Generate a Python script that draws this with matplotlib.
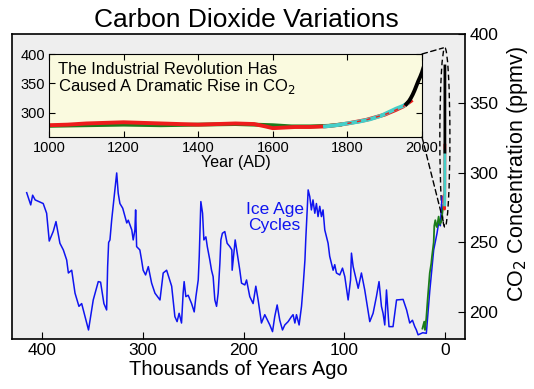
import matplotlib
matplotlib.use("Agg")
import matplotlib.pyplot as plt
from matplotlib.patches import Ellipse, ConnectionPatch
import numpy as np

plt.rcParams['font.family'] = ['Liberation Sans', 'DejaVu Sans']

# Vostok ice core (thousands of years ago, ppmv)
vostok_kyr = [415.4, 411.4, 409.5, 407, 399, 395.6, 393, 389, 386.3, 382.4,
              379, 375.7, 374, 370.7, 367.4, 363.5, 360.8, 354, 349.3, 344.3,
              342, 338.7, 336, 335, 334, 332.7, 331, 328.5, 326, 324.5,
              322.8, 320, 317.8, 316, 314.5, 311, 309.6, 307.9, 307.2, 306.2,
              303, 301.3, 299.7, 297.3, 294.6, 291.3, 288, 283, 279.8, 276.4,
              271.4, 268.2, 266, 264, 261.6, 260, 259, 257.3, 255, 251.6,
              249, 247.3, 245, 244, 242.4, 240.7, 239.4, 237.4, 236, 233.5,
              231.8, 230.2, 228.5, 226.8, 225.2, 223.5, 222.5, 221, 218.6, 216.3,
              213.6, 211.6, 211.3, 208.3, 205.3, 203.7, 202, 198.7, 197, 193.8,
              190.5, 187.8, 185.5, 182.2, 178.9, 173.9, 171.2, 169, 166.6, 164,
              161.3, 159, 155.7, 152.4, 150.8, 149, 147.4, 144.8, 142.4, 140.8,
              139, 138.2, 136.8, 135.8, 134.2, 132.6, 131, 129.2, 127.6, 126,
              124.3, 122.6, 121, 119.3, 116, 114.4, 112.7, 111, 109.4, 107.7,
              104.4, 101.7, 99.4, 96.1, 93.7, 92.8, 91.1, 86.1, 82.9, 79.6,
              74.6, 71.3, 68, 65.4, 63, 61.4, 59.7, 58, 55.5, 51.5,
              48, 41.5, 38, 34.9, 32.2, 29.9, 28.3, 26.6, 22, 18.4,
              15, 11.1, 7.8, 6.2, 4.5, 2.8]
vostok_ppm = [285.8, 277, 284, 280.6, 278, 271, 251, 258, 265, 249.4,
              244.6, 237.4, 228, 230, 213.5, 204, 206, 187, 208.6, 221.8,
              221.4, 206, 201.4, 232.6, 250, 251.8, 266, 283, 300, 285.4,
              278, 274.6, 268.6, 264, 266, 259, 251.8, 259, 273.4, 247,
              244.6, 237.4, 230, 226.6, 232.6, 220.7, 213.5, 208.6, 228, 230,
              218.5, 196.6, 193, 199, 192, 213.5, 221.8, 211, 212, 206,
              200, 211, 223, 240, 279.4, 271, 251.8, 254, 247, 237.4,
              230, 225.4, 208.6, 204, 213.5, 235, 251.8, 256.6, 257.8, 249.4,
              247, 244.6, 230, 251.8, 237.4, 230, 220.7, 219.4, 223, 211,
              206, 218.5, 208.6, 192, 198, 190.6, 185.8, 196.6, 205, 194,
              187, 190.6, 193, 196.6, 198, 192, 198, 190.6, 204, 218.5,
              237.4, 251.8, 273.4, 287.8, 283, 273.4, 280.6, 271, 278, 268.6,
              276, 268.6, 273.4, 259, 249.4, 240, 235, 230, 234, 228,
              226.6, 231.5, 225.4, 208.6, 223, 242.3, 232.6, 217, 228, 215.8,
              193, 199, 211, 221.8, 204, 199, 190.6, 215.8, 189.4, 189.4,
              208.6, 209, 201.4, 192, 194, 189.4, 187, 183.5, 185, 184.6,
              215, 244.6, 256.6, 263.9, 262, 283]

# Dome ice core, last glacial transition
dome_kyr = [22.3, 20.5, 19.8, 18.5, 17, 15, 13.5, 12.8, 11.1, 10.5,
            9.5, 8.5, 7.8, 6.2, 5, 3.5, 2.2, 1.0]
dome_ppm = [188, 193, 187, 195, 210, 228, 235, 240, 250, 262,
            266, 262, 261, 268.6, 263, 265, 273, 278]

# Last millennium (year AD, ppmv)
green_year = [1000, 1100, 1200, 1300, 1400, 1500, 1600, 1650, 1700, 1750, 1780]
green_ppm = [278, 279, 280, 279, 280, 281, 279, 277, 277, 278, 280]
red_year = [1000, 1050, 1100, 1150, 1200, 1250, 1300, 1350, 1400, 1450, 1500,
            1550, 1580, 1600, 1630, 1660, 1700, 1740, 1780, 1800, 1850, 1900,
            1930, 1950, 1970]
red_ppm = [279, 280, 282, 283, 284, 283, 282, 281, 280, 281, 282,
           281, 277, 274, 275, 276, 276, 277, 280, 282, 288, 297,
           305, 311, 320]
cyan_year = [1740, 1770, 1800, 1830, 1860, 1890, 1910, 1930, 1950, 1960]
cyan_ppm = [277, 279, 282, 285, 289, 295, 301, 307, 312, 316]
black_year = [1958, 1965, 1970, 1975, 1980, 1985, 1990, 1995, 2000, 2004]
black_ppm = [315, 320, 325, 331, 338, 346, 354, 361, 369, 377]

blue = '#0f14f0'
dgreen = '#1b7d1b'
red = '#ee1c1c'
cyan = '#45cfc9'


def to_kyr(years):
    return (1950 - np.array(years)) / 1000.0


fig = plt.figure(figsize=(5.34, 3.89), dpi=100)
ax = fig.add_axes([12 / 534, 50 / 389, 453 / 534, 305 / 389])
ax.set_facecolor('#eeeeee')

ax.plot(vostok_kyr, vostok_ppm, color=blue, lw=1.1)
ax.plot(dome_kyr, dome_ppm, color=dgreen, lw=1.3)
ax.plot(to_kyr(red_year), red_ppm, color=red, lw=2)
ax.plot(to_kyr(cyan_year), cyan_ppm, color=cyan, lw=2)
ax.plot(to_kyr(black_year), black_ppm, color='black', lw=2)

ax.set_xlim(430, -20)
ax.set_ylim(180.5, 400)
ax.set_xticks([400, 300, 200, 100, 0])
ax.set_yticks([200, 250, 300, 350, 400])
ax.yaxis.tick_right()
ax.yaxis.set_label_position('right')
ax.tick_params(direction='in', length=5, labelsize=12.5, pad=3)
ax.set_xlabel('Thousands of Years Ago', fontsize=14.5, labelpad=1)
ax.set_ylabel('CO$_2$ Concentration (ppmv)', fontsize=15.5, labelpad=5)
ax.yaxis.label.set_y(0.54)
for s in ax.spines.values():
    s.set_linewidth(1.2)

ax.text(169, 268, 'Ice Age\nCycles', color=blue, fontsize=12.5,
        ha='center', va='center', linespacing=1.1)

ell = Ellipse((0, 325.5), width=10, height=129, fill=False,
              ls=(0, (4, 2.5)), lw=1, color='black')
ax.add_patch(ell)

fig.text(246 / 534, 1 - 20 / 389, 'Carbon Dioxide Variations',
         fontsize=19, ha='center', va='center')

# inset
ax_in = fig.add_axes([49 / 534, (389 - 137) / 389, 373 / 534, 83 / 389])
ax_in.set_facecolor('#fafadf')
ax_in.plot(green_year, green_ppm, color=dgreen, lw=2.8)
ax_in.plot(red_year, red_ppm, color=red, lw=2.8)
ax_in.plot(cyan_year, cyan_ppm, color=cyan, lw=2.8)
ax_in.plot(red_year[-6:], red_ppm[-6:], color=red, lw=1, ls=(0, (3, 4)))
ax_in.plot(black_year, black_ppm, color='black', lw=2.8)
ax_in.set_xlim(1000, 2000)
ax_in.set_ylim(259, 400)
ax_in.set_xticks(range(1000, 2001, 200))
ax_in.set_yticks([300, 350, 400])
ax_in.tick_params(direction='in', length=4, labelsize=10.5, top=True, right=True, pad=3)
ax_in.set_xlabel('Year (AD)', fontsize=11.5, labelpad=0)
ax_in.text(0.025, 0.9, 'The Industrial Revolution Has\nCaused A Dramatic Rise in CO$_2$',
           transform=ax_in.transAxes, fontsize=12, va='top', ha='left',
           linespacing=1.0)

for xyA, xyB in [((2000, 400), (1.5, 390)), ((2000, 259), (0.5, 262))]:
    con = ConnectionPatch(xyA=xyA, coordsA=ax_in.transData,
                          xyB=xyB, coordsB=ax.transData,
                          ls=(0, (4, 2.5)), lw=1, color='black')
    fig.add_artist(con)

fig.savefig('out.png', dpi=100)
